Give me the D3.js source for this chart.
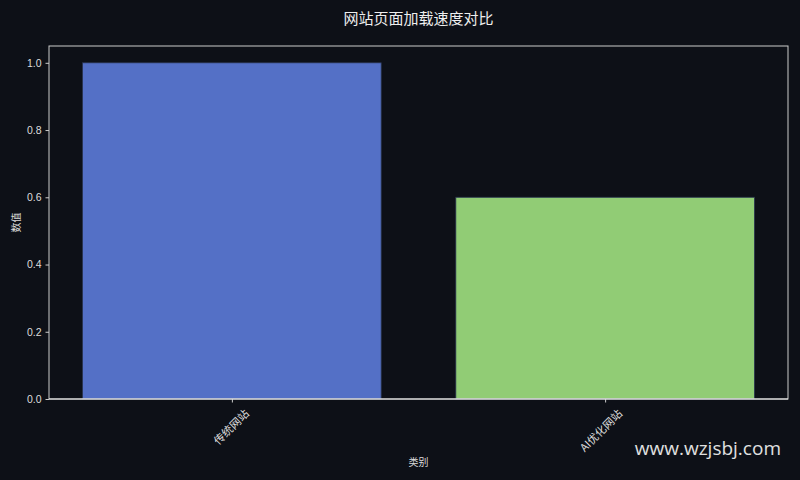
<!DOCTYPE html>
<html>
<head>
<meta charset="utf-8">
<script src="https://cdn.jsdelivr.net/npm/d3@7"></script>
<style>
  body { margin: 0; background: #0d1017; }
  text { font-family: "Noto Sans CJK SC", "DejaVu Sans", sans-serif; }
</style>
</head>
<body>
<div id="chart"></div>
<script>
// chart data
var categories = ["传统网站", "AI优化网站"];
var values = [1.0, 0.6];
var colors = ["#5470c6", "#91cc75"];
var yTicks = [0.0, 0.2, 0.4, 0.6, 0.8, 1.0];

var width = 800;
var height = 480;
var margin = { top: 46, right: 12, bottom: 81, left: 49 };

var svg = d3.select("#chart")
    .append("svg")
    .attr("width", width)
    .attr("height", height);

svg.append("rect")
    .attr("width", width)
    .attr("height", height)
    .attr("fill", "#0d1017");

// x: categories at 0,1 with matplotlib style margins
var x = d3.scaleLinear()
    .domain([-0.49, categories.length - 1 + 0.49])
    .range([margin.left, width - margin.right]);

var y = d3.scaleLinear()
    .domain([0, 1.05])
    .range([height - margin.bottom, margin.top]);

var barW = 0.8;

// bars
svg.selectAll(".bar")
    .data(values)
    .enter().append("rect")
    .attr("class", "bar")
    .attr("x", function(d, i) { return x(i - barW / 2); })
    .attr("y", function(d) { return y(d); })
    .attr("width", function(d, i) { return x(i + barW / 2) - x(i - barW / 2); })
    .attr("height", function(d) { return y(0) - y(d); })
    .attr("fill", function(d, i) { return colors[i]; })
    .attr("stroke", "#2a3550")
    .attr("stroke-width", 0.8);

// frame
svg.append("rect")
    .attr("x", margin.left)
    .attr("y", margin.top)
    .attr("width", width - margin.left - margin.right)
    .attr("height", height - margin.top - margin.bottom)
    .attr("fill", "none")
    .attr("stroke", "#cccccc")
    .attr("stroke-width", 1);

// y axis
var yAxis = svg.append("g")
    .attr("transform", "translate(" + margin.left + ",0)")
    .call(d3.axisLeft(y).tickValues(yTicks).tickFormat(d3.format(".1f")).tickSize(3.5).tickPadding(4));
yAxis.select(".domain").remove();
yAxis.selectAll("line").attr("stroke", "#cccccc");
yAxis.selectAll("text")
    .attr("fill", "#dddddd")
    .style("font-family", "'Liberation Sans', Arial, sans-serif")
    .style("font-size", "10.5px");

// x axis
var xAxis = svg.append("g")
    .attr("transform", "translate(0," + (height - margin.bottom) + ")")
    .call(d3.axisBottom(x).tickValues(d3.range(categories.length))
        .tickFormat(function(i) { return categories[i]; }).tickSize(3.5));
xAxis.select(".domain").remove();
xAxis.selectAll("line").attr("stroke", "#cccccc");
xAxis.selectAll("text")
    .attr("fill", "#dddddd")
    .style("font-size", "11px")
    .attr("text-anchor", "end")
    .attr("dy", "0.35em")
    .attr("transform", "translate(10,8) rotate(-45)");

// bottom spine drawn brighter
svg.append("line")
    .attr("x1", margin.left).attr("x2", width - margin.right)
    .attr("y1", y(0)).attr("y2", y(0))
    .attr("stroke", "#eeeeee");

// titles
svg.append("text")
    .attr("x", (margin.left + width - margin.right) / 2)
    .attr("y", 24)
    .attr("text-anchor", "middle")
    .attr("fill", "#eeeeee")
    .style("font-size", "15px")
    .text("网站页面加载速度对比");

svg.append("text")
    .attr("x", (margin.left + width - margin.right) / 2)
    .attr("y", 466)
    .attr("text-anchor", "middle")
    .attr("fill", "#dddddd")
    .style("font-size", "10px")
    .text("类别");

svg.append("text")
    .attr("transform", "translate(20," + ((margin.top + height - margin.bottom) / 2) + ") rotate(-90)")
    .attr("text-anchor", "middle")
    .attr("fill", "#dddddd")
    .style("font-size", "10px")
    .text("数值");

// watermark
svg.append("text")
    .attr("x", 781)
    .attr("y", 455)
    .attr("text-anchor", "end")
    .attr("fill", "#e0e0e0")
    .style("font-family", "'Open Sans', 'Noto Sans', sans-serif")
    .style("font-size", "19px")
    .text("www.wzjsbj.com");
</script>
</body>
</html>
